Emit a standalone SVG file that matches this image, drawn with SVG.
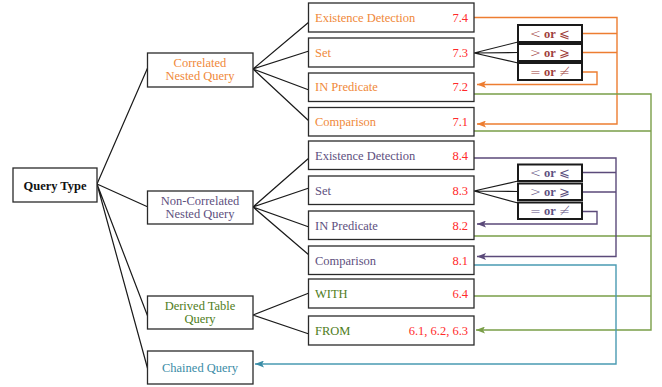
<svg xmlns="http://www.w3.org/2000/svg" width="662" height="387" viewBox="0 0 662 387">
<style>
text{font-family:"Liberation Serif","Times New Roman",serif;font-size:12.5px}
.box{fill:#fff;stroke:#2a2a2a;stroke-width:1.3}
.sb{fill:#fff;stroke:#1a1a1a;stroke-width:2}
.t{stroke:#1a1a1a;stroke-width:1.2;fill:none}
.c{text-anchor:middle}
.num{fill:#ff2a2a;text-anchor:end}
.or{fill:#f0893a}.pu{fill:#5e5080}.gr{fill:#4f7d22}.te{fill:#3a8ca6}
.sr{fill:#a0403c;text-anchor:middle}.sp{fill:#5e5080;text-anchor:middle}
.sym{font-family:"DejaVu Sans",sans-serif;font-size:13px;font-weight:200}
.lo{stroke:#ed7d31;stroke-width:1.4;fill:none}
.lp{stroke:#5b4a7a;stroke-width:1.4;fill:none}
.lg{stroke:#7a9e48;stroke-width:1.4;fill:none}
.lt{stroke:#4a9bb2;stroke-width:1.4;fill:none}
</style>
<defs>
<marker id="ao" markerUnits="userSpaceOnUse" markerWidth="9" markerHeight="7" refX="9" refY="3.5" orient="auto"><path d="M9,3.5 L0,0 L2,3.5 L0,7 z" fill="#ed7d31"/></marker>
<marker id="ap" markerUnits="userSpaceOnUse" markerWidth="9" markerHeight="7" refX="9" refY="3.5" orient="auto"><path d="M9,3.5 L0,0 L2,3.5 L0,7 z" fill="#5b4a7a"/></marker>
<marker id="ag" markerUnits="userSpaceOnUse" markerWidth="9" markerHeight="7" refX="9" refY="3.5" orient="auto"><path d="M9,3.5 L0,0 L2,3.5 L0,7 z" fill="#7a9e48"/></marker>
<marker id="at" markerUnits="userSpaceOnUse" markerWidth="9" markerHeight="7" refX="9" refY="3.5" orient="auto"><path d="M9,3.5 L0,0 L2,3.5 L0,7 z" fill="#3a8ca6"/></marker>
</defs>
<rect width="662" height="387" fill="#fff"/>
<g id="connectors">
<path class="t" d="M97,184 L148,67 M97,184 L148,207 M97,184 L148,317 M97,184 L148,370"/>
<path class="t" d="M253,69 L309,22 M253,69 L309,51 M253,69 L309,90 M253,69 L309,121"/>
<path class="t" d="M253,207 L309,158 M253,207 L309,188 M253,207 L309,227 M253,207 L309,255"/>
<path class="t" d="M253,315 L309,293 M253,315 L309,334"/>
<path class="t" d="M474,53 L518,42 M474,53 L518,52.5 M474,53 L518,63"/>
<path class="t" d="M474,191 L518,181 M474,191 L518,191.5 M474,191 L518,203"/>
<path class="lo" d="M474,17.5 H617 V124 H477" marker-end="url(#ao)"/>
<path class="lo" d="M582,33.5 H617 M582,52.5 H617"/>
<path class="lo" d="M582,72 H597 V84.5 H477" marker-end="url(#ao)"/>
<path class="lg" d="M474,94 H651 V330 H476" marker-end="url(#ag)"/>
<path class="lg" d="M474,131 H651 M474,236 H651 M474,296 H651"/>
<path class="lp" d="M474,158 H616 V256.5 H477" marker-end="url(#ap)"/>
<path class="lp" d="M582,172.5 H616 M582,192 H616"/>
<path class="lp" d="M582,211.5 H597 V224 H477" marker-end="url(#ap)"/>
<path class="lt" d="M474,265 H616 V364 H255" marker-end="url(#at)"/>
</g>
<g id="query-type"><rect class="box" x="13" y="168" width="84" height="34"/><text x="55" y="189.5" class="c" font-weight="bold" fill="#111">Query Type</text></g>
<g id="correlated"><rect class="box" x="147.5" y="53" width="105.5" height="34"/><text x="200" y="67" class="c or">Correlated</text><text x="200" y="79.5" class="c or">Nested Query</text></g>
<g id="non-correlated"><rect class="box" x="147.5" y="191" width="105.5" height="33"/><text x="200" y="205" class="c pu">Non-Correlated</text><text x="200" y="217.5" class="c pu">Nested Query</text></g>
<g id="derived"><rect class="box" x="147.5" y="296" width="105.5" height="33"/><text x="200" y="309.5" class="c gr">Derived Table</text><text x="200" y="322.5" class="c gr">Query</text></g>
<g id="chained"><rect class="box" x="147.5" y="351" width="105.5" height="33"/><text x="200" y="371.5" class="c te">Chained Query</text></g>
<g id="c-exist"><rect class="box" x="308.5" y="3" width="165.5" height="29"/><text x="315" y="21.5" class="or">Existence Detection</text><text x="468" y="21.5" class="num">7.4</text></g>
<g id="c-set"><rect class="box" x="308.5" y="38" width="165.5" height="29"/><text x="315" y="56.5" class="or">Set</text><text x="468" y="56.5" class="num">7.3</text></g>
<g id="c-in"><rect class="box" x="308.5" y="73" width="165.5" height="28.5"/><text x="315" y="91" class="or">IN Predicate</text><text x="468" y="91" class="num">7.2</text></g>
<g id="c-comp"><rect class="box" x="308.5" y="107.5" width="165.5" height="28.5"/><text x="315" y="125.5" class="or">Comparison</text><text x="468" y="125.5" class="num">7.1</text></g>
<g id="c-lt"><rect class="sb" x="518" y="25" width="64" height="17"/><text x="550" y="38" class="sr"><tspan class="sym">&lt;</tspan> <tspan font-weight="bold">or</tspan> <tspan class="sym">⩽</tspan></text></g>
<g id="c-gt"><rect class="sb" x="518" y="44" width="64" height="17"/><text x="550" y="57" class="sr"><tspan class="sym">&gt;</tspan> <tspan font-weight="bold">or</tspan> <tspan class="sym">⩾</tspan></text></g>
<g id="c-eq"><rect class="sb" x="518" y="63" width="64" height="17"/><text x="550" y="76" class="sr"><tspan class="sym">=</tspan> <tspan font-weight="bold">or</tspan> <tspan class="sym">≠</tspan></text></g>
<g id="n-exist"><rect class="box" x="308.5" y="141" width="165.5" height="28.5"/><text x="315" y="159.5" class="pu">Existence Detection</text><text x="468" y="159.5" class="num">8.4</text></g>
<g id="n-set"><rect class="box" x="308.5" y="176" width="165.5" height="28.5"/><text x="315" y="194.5" class="pu">Set</text><text x="468" y="194.5" class="num">8.3</text></g>
<g id="n-in"><rect class="box" x="308.5" y="211" width="165.5" height="28.5"/><text x="315" y="229.5" class="pu">IN Predicate</text><text x="468" y="229.5" class="num">8.2</text></g>
<g id="n-comp"><rect class="box" x="308.5" y="246" width="165.5" height="28.5"/><text x="315" y="264.5" class="pu">Comparison</text><text x="468" y="264.5" class="num">8.1</text></g>
<g id="n-lt"><rect class="sb" x="518" y="164.5" width="64" height="16.5"/><text x="550" y="177" class="sp"><tspan class="sym">&lt;</tspan> <tspan font-weight="bold">or</tspan> <tspan class="sym">⩽</tspan></text></g>
<g id="n-gt"><rect class="sb" x="518" y="183.5" width="64" height="16.5"/><text x="550" y="196" class="sp"><tspan class="sym">&gt;</tspan> <tspan font-weight="bold">or</tspan> <tspan class="sym">⩾</tspan></text></g>
<g id="n-eq"><rect class="sb" x="518" y="202.5" width="64" height="16.5"/><text x="550" y="215" class="sp"><tspan class="sym">=</tspan> <tspan font-weight="bold">or</tspan> <tspan class="sym">≠</tspan></text></g>
<g id="with"><rect class="box" x="308.5" y="279" width="165.5" height="29"/><text x="315" y="297.5" class="gr">WITH</text><text x="468" y="297.5" class="num">6.4</text></g>
<g id="from"><rect class="box" x="308.5" y="316" width="165.5" height="29"/><text x="315" y="334.5" class="gr">FROM</text><text x="468" y="334.5" class="num">6.1, 6.2, 6.3</text></g>
</svg>
